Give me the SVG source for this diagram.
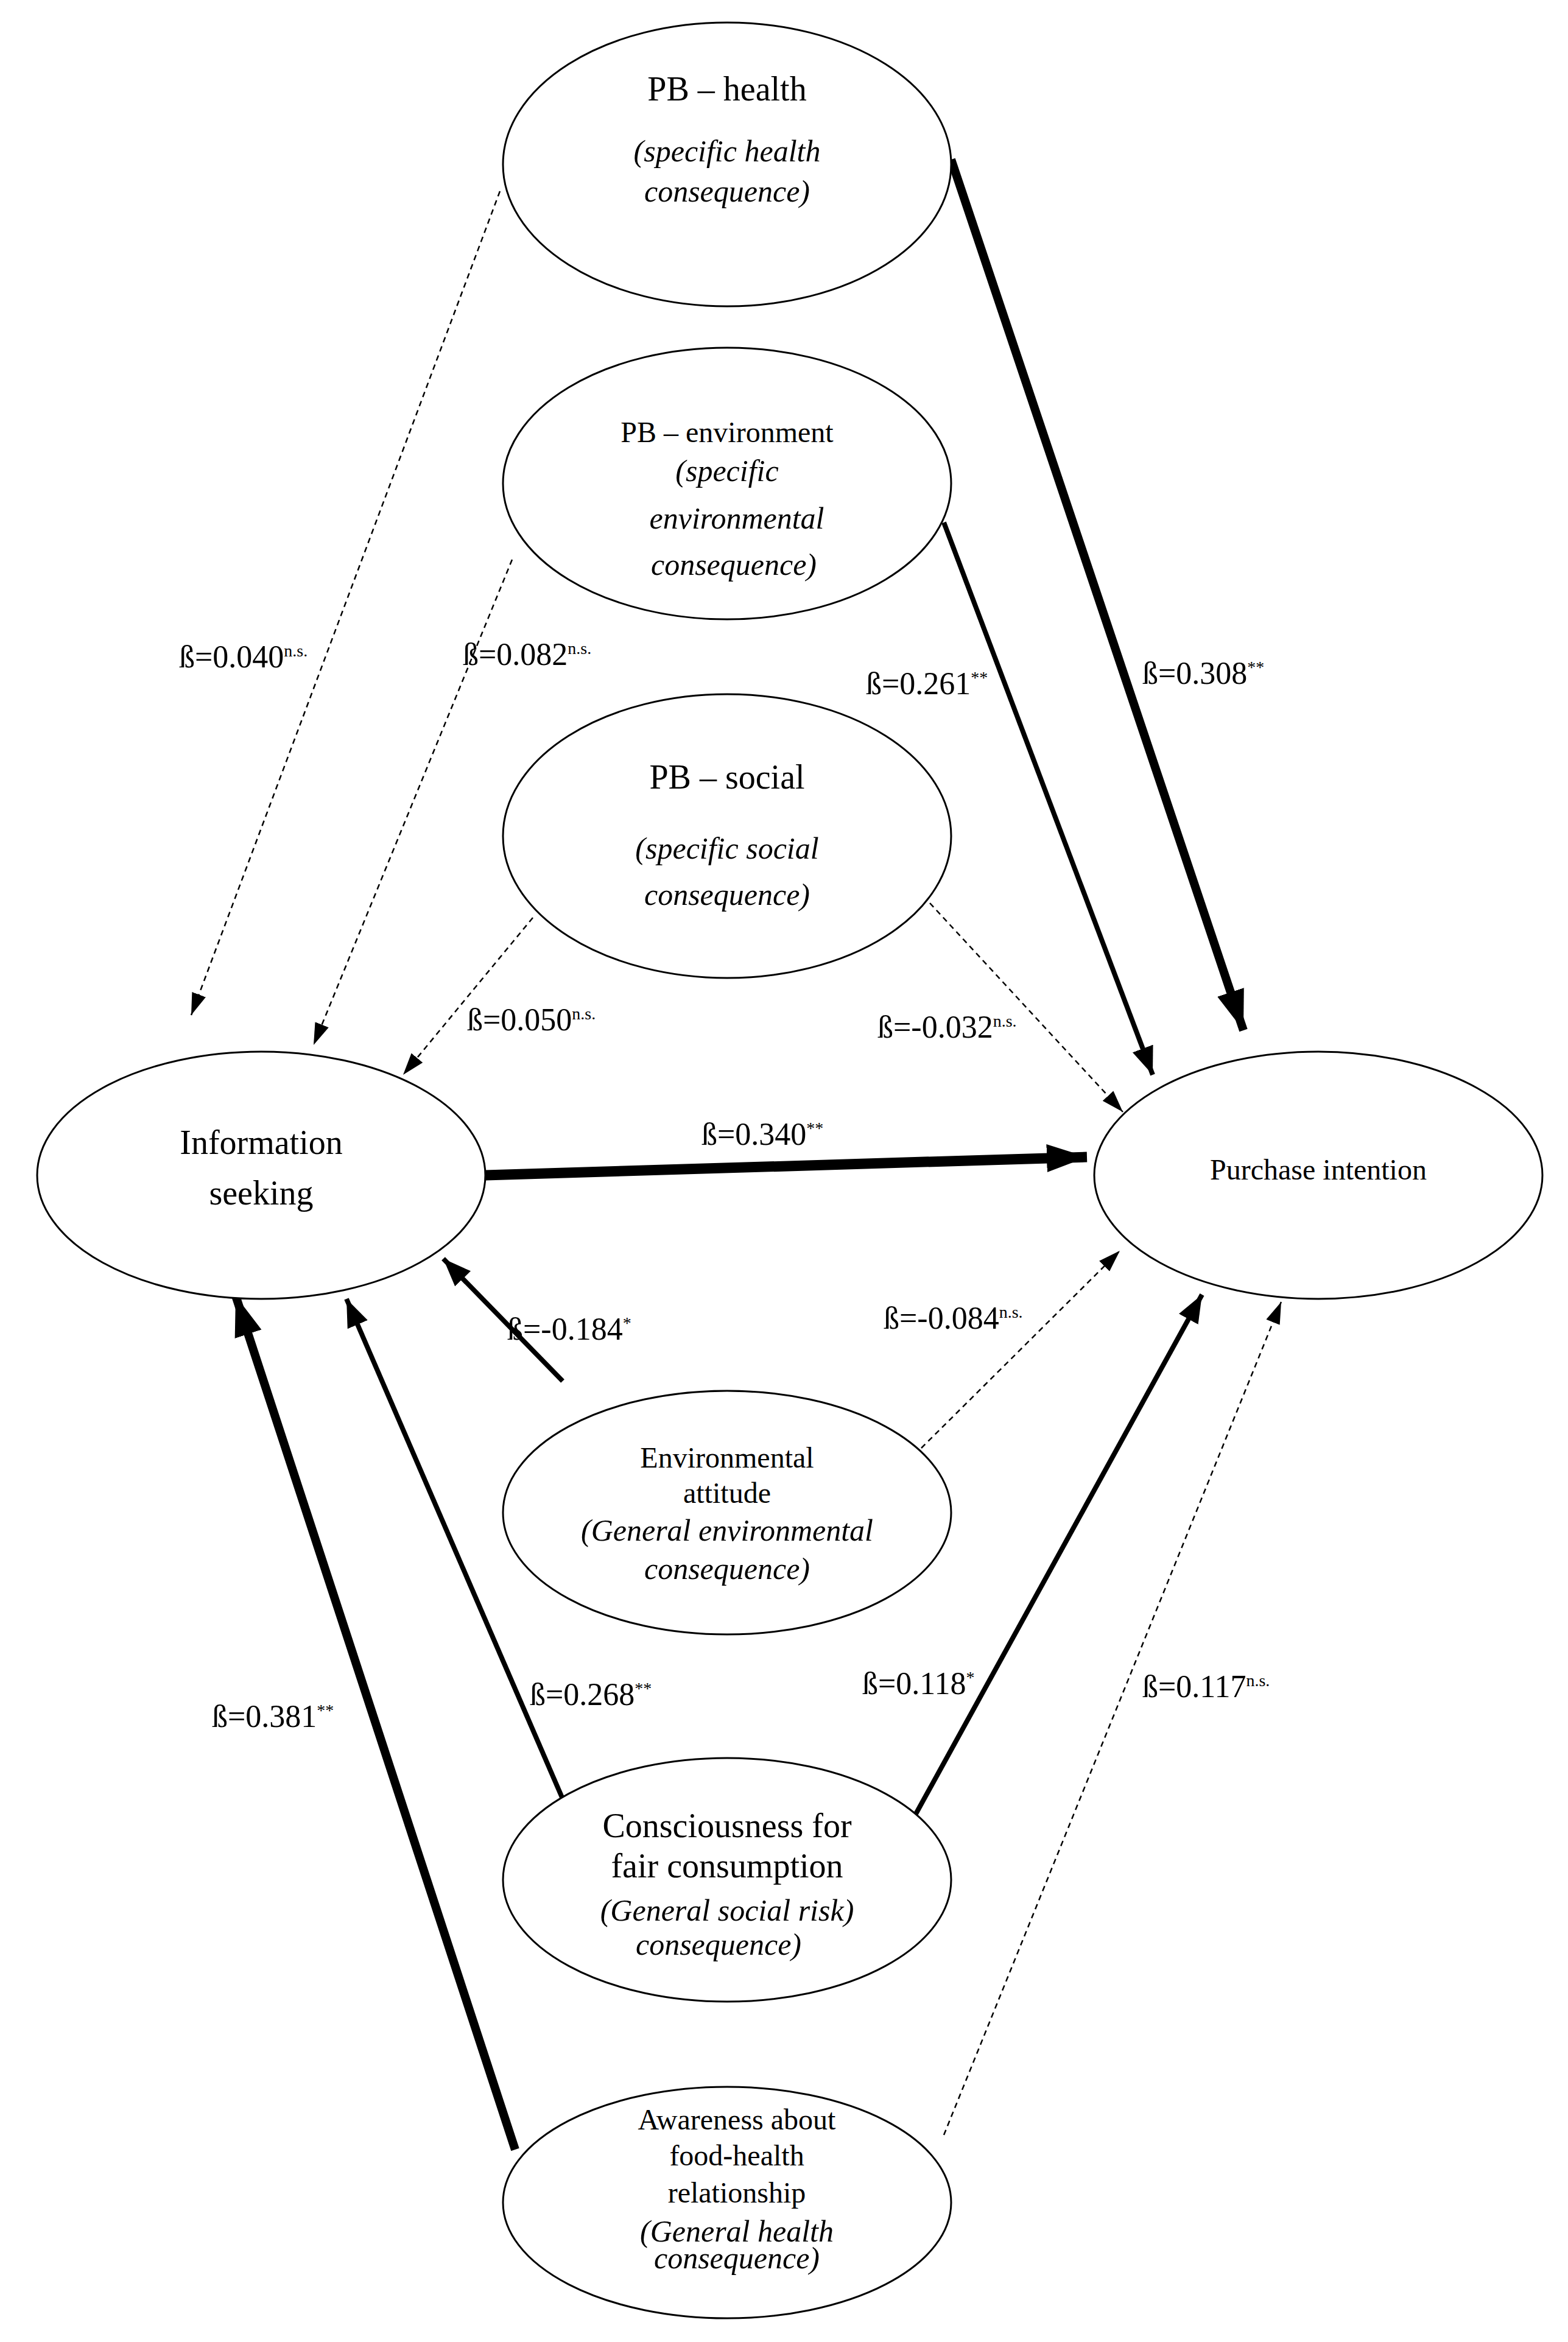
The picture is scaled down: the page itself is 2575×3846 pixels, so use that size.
<svg xmlns="http://www.w3.org/2000/svg" width="2575" height="3846" viewBox="0 0 2575 3846">
<style>
.n{fill:#fff;stroke:#000;stroke-width:3}
text{font-family:"Liberation Serif","DejaVu Serif",serif;fill:#000;text-anchor:middle}
.t{font-size:56px}
.s{font-size:48px}
.i{font-style:italic;font-size:50px}
.l{font-size:52px;text-anchor:start}
.d{stroke:#000;stroke-width:2.5;stroke-dasharray:9 7;fill:none}
.m{stroke:#000;stroke-width:8;fill:none}
.k{stroke:#000;stroke-width:14;fill:none}
.x{stroke:#000;stroke-width:17;fill:none}
</style>
<defs>
<marker id="ad" markerUnits="userSpaceOnUse" markerWidth="40" markerHeight="30" refX="36" refY="15" orient="auto" viewBox="0 0 40 30"><path d="M0,3 L36,15 L0,27 Z"/></marker>
<marker id="am" markerUnits="userSpaceOnUse" markerWidth="50" markerHeight="40" refX="46" refY="20" orient="auto" viewBox="0 0 50 40"><path d="M0,2 L46,20 L0,38 Z"/></marker>
<marker id="ak" markerUnits="userSpaceOnUse" markerWidth="70" markerHeight="50" refX="66" refY="25" orient="auto" viewBox="0 0 70 50"><path d="M0,2 L66,25 L0,48 Z"/></marker>
</defs>
<rect width="2575" height="3846" fill="#fff"/>
<g id="connectors">
<line class="d" x1="821" y1="314" x2="314" y2="1667" marker-end="url(#ad)"/>
<line class="d" x1="841" y1="919" x2="515" y2="1716" marker-end="url(#ad)"/>
<line class="d" x1="875" y1="1507" x2="662" y2="1765" marker-end="url(#ad)"/>
<line class="d" x1="1527" y1="1483" x2="1844" y2="1826" marker-end="url(#ad)"/>
<line class="k" x1="1562" y1="262" x2="2042" y2="1692" marker-end="url(#ak)"/>
<line class="m" x1="1550" y1="858" x2="1893" y2="1765" marker-end="url(#am)"/>
<line class="x" x1="797" y1="1930" x2="1785" y2="1900" marker-end="url(#ak)"/>
<line class="m" x1="924" y1="2268" x2="728" y2="2067" marker-end="url(#am)"/>
<line class="d" x1="1513" y1="2378" x2="1839" y2="2054" marker-end="url(#ad)"/>
<line class="m" x1="924" y1="2954" x2="569" y2="2133" marker-end="url(#am)"/>
<line class="m" x1="1500" y1="2986" x2="1974" y2="2126" marker-end="url(#am)"/>
<line class="k" x1="846" y1="3530" x2="387" y2="2128" marker-end="url(#ak)"/>
<line class="d" x1="1550" y1="3506" x2="2104" y2="2138" marker-end="url(#ad)"/>
</g>
<g id="labels">
<text class="l" x="294" y="1096">ß=0.040<tspan font-size="28" dy="-18">n.s.</tspan></text>
<text class="l" x="760" y="1092">ß=0.082<tspan font-size="28" dy="-18">n.s.</tspan></text>
<text class="l" x="1422" y="1140">ß=0.261<tspan font-size="28" dy="-18">**</tspan></text>
<text class="l" x="1876" y="1123">ß=0.308<tspan font-size="28" dy="-18">**</tspan></text>
<text class="l" x="767" y="1692">ß=0.050<tspan font-size="28" dy="-18">n.s.</tspan></text>
<text class="l" x="1441" y="1704">ß=-0.032<tspan font-size="28" dy="-18">n.s.</tspan></text>
<text class="l" x="1152" y="1880">ß=0.340<tspan font-size="28" dy="-18">**</tspan></text>
<text class="l" x="833" y="2200">ß=-0.184<tspan font-size="28" dy="-18">*</tspan></text>
<text class="l" x="1451" y="2182">ß=-0.084<tspan font-size="28" dy="-18">n.s.</tspan></text>
<text class="l" x="870" y="2800">ß=0.268<tspan font-size="28" dy="-18">**</tspan></text>
<text class="l" x="348" y="2836">ß=0.381<tspan font-size="28" dy="-18">**</tspan></text>
<text class="l" x="1416" y="2782">ß=0.118<tspan font-size="28" dy="-18">*</tspan></text>
<text class="l" x="1876" y="2787">ß=0.117<tspan font-size="28" dy="-18">n.s.</tspan></text>
</g>
<g id="pb-health">
<ellipse class="n" cx="1194" cy="270" rx="368" ry="233"/>
<text class="t" x="1194" y="165">PB – health</text>
<text class="i" x="1194" y="265">(specific health</text>
<text class="i" x="1194" y="331">consequence)</text>
</g>
<g id="pb-environment">
<ellipse class="n" cx="1194" cy="794" rx="368" ry="223"/>
<text class="s" x="1194" y="726">PB – environment</text>
<text class="i" x="1194" y="790" font-size="46">(specific</text>
<text class="i" x="1210" y="868" font-size="46">environmental</text>
<text class="i" x="1205" y="944" font-size="44">consequence)</text>
</g>
<g id="pb-social">
<ellipse class="n" cx="1194" cy="1373" rx="368" ry="233"/>
<text class="t" x="1194" y="1295">PB – social</text>
<text class="i" x="1194" y="1410">(specific social</text>
<text class="i" x="1194" y="1486">consequence)</text>
</g>
<g id="information-seeking">
<ellipse class="n" cx="429" cy="1930" rx="368" ry="203"/>
<text class="t" x="429" y="1895">Information</text>
<text class="t" x="429" y="1978">seeking</text>
</g>
<g id="purchase-intention">
<ellipse class="n" cx="2165" cy="1930" rx="368" ry="203"/>
<text class="s" x="2165" y="1937">Purchase intention</text>
</g>
<g id="environmental-attitude">
<ellipse class="n" cx="1194" cy="2484" rx="368" ry="200"/>
<text class="s" x="1194" y="2410">Environmental</text>
<text class="s" x="1194" y="2468">attitude</text>
<text class="i" x="1194" y="2530" font-size="44">(General environmental</text>
<text class="i" x="1194" y="2593" font-size="44">consequence)</text>
</g>
<g id="consciousness">
<ellipse class="n" cx="1194" cy="3087" rx="368" ry="200"/>
<text class="t" x="1194" y="3017">Consciousness for</text>
<text class="t" x="1194" y="3083">fair consumption</text>
<text class="i" x="1194" y="3154">(General social risk)</text>
<text class="i" x="1180" y="3210" font-size="46">consequence)</text>
</g>
<g id="awareness">
<ellipse class="n" cx="1194" cy="3617" rx="368" ry="190"/>
<text class="s" x="1210" y="3497">Awareness about</text>
<text class="s" x="1210" y="3556">food-health</text>
<text class="s" x="1210" y="3617">relationship</text>
<text class="i" x="1210" y="3681" font-size="44">(General health</text>
<text class="i" x="1210" y="3725" font-size="44">consequence)</text>
</g>
</svg>
